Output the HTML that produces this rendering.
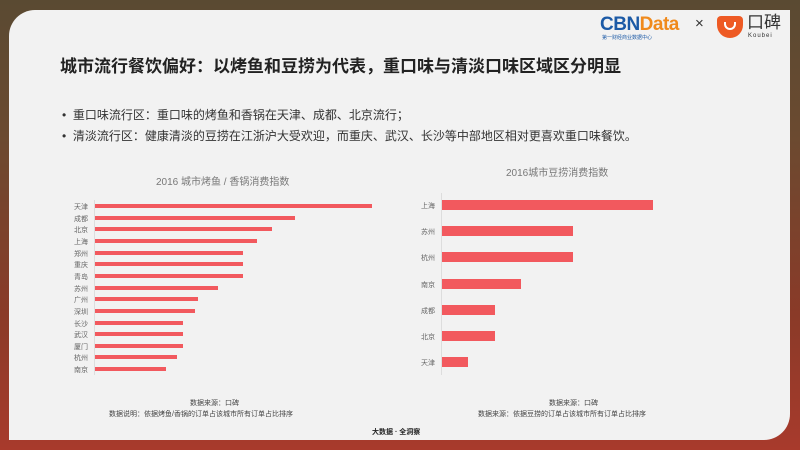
<!DOCTYPE html>
<html><head><meta charset="utf-8"><style>
*{margin:0;padding:0;box-sizing:border-box}
body{width:800px;height:450px;overflow:hidden;position:relative;font-family:"Liberation Sans","Noto Sans CJK SC",sans-serif;
background:linear-gradient(180deg,#5a4a32 0%,#6b4a30 30%,#8a3a28 70%,#a83a2c 100%);}
.panel{position:absolute;left:9px;top:10px;width:781px;height:430px;background:#f2f2f2;border-radius:26px 0 26px 0;}
.t{position:absolute;white-space:nowrap;line-height:1.2}
.lab{position:absolute;font-size:7px;color:#666;text-align:right;width:30px}
.bar{position:absolute;background:#f2595e}
</style></head><body>
<div class="panel"></div>
<div class="t" style="left:600px;top:14px;font-size:19px;font-weight:bold;letter-spacing:-0.5px"><span style="color:#1c5aa6">CBN</span><span style="color:#f08a1c">Data</span></div>
<div class="t" style="left:602px;top:35px;font-size:5px;color:#1c5aa6">第一财经商业数据中心</div>
<div class="t" style="left:695px;top:15px;font-size:15px;color:#333">×</div>
<div style="position:absolute;left:717px;top:16px;width:26px;height:22px;background:#ee5a24;border-radius:4px 4px 13px 13px"></div>
<div style="position:absolute;left:724px;top:22px;width:12px;height:8px;border:2px solid #fff;border-top:none;border-radius:0 0 7px 7px"></div>
<div class="t" style="left:747px;top:14px;font-size:17px;color:#333;line-height:1">口碑</div>
<div class="t" style="left:748px;top:33px;font-size:6px;color:#333;letter-spacing:1px;line-height:1">Koubei</div>
<div class="t" style="left:60px;top:57px;font-size:17px;font-weight:bold;color:#222">城市流行餐饮偏好：以烤鱼和豆捞为代表，重口味与清淡口味区域区分明显</div>
<div class="t" style="left:62px;top:108px;font-size:12px;color:#333">•&nbsp;&nbsp;重口味流行区：重口味的烤鱼和香锅在天津、成都、北京流行；</div>
<div class="t" style="left:62px;top:129px;font-size:12px;color:#333">•&nbsp;&nbsp;清淡流行区：健康清淡的豆捞在江浙沪大受欢迎，而重庆、武汉、长沙等中部地区相对更喜欢重口味餐饮。</div>
<div class="t" style="left:156px;top:177px;font-size:10px;color:#777">2016 城市烤鱼 / 香锅消费指数</div>
<div style="position:absolute;left:94px;top:200px;width:1px;height:175px;background:#ddd"></div>
<div id="L"></div>
<div class="t" style="left:506px;top:168px;font-size:10px;color:#777">2016城市豆捞消费指数</div>
<div style="position:absolute;left:441px;top:193px;width:1px;height:182px;background:#ddd"></div>
<div id="R"></div>
<div class="t" style="left:190px;top:400px;font-size:7px;color:#444">数据来源：口碑</div>
<div class="t" style="left:109px;top:411px;font-size:7px;color:#444">数据说明：依据烤鱼/香锅的订单占该城市所有订单占比排序</div>
<div class="t" style="left:549px;top:400px;font-size:7px;color:#444">数据来源：口碑</div>
<div class="t" style="left:478px;top:411px;font-size:7px;color:#444">数据来源：依据豆捞的订单占该城市所有订单占比排序</div>
<div class="t" style="left:372px;top:429px;font-size:7px;color:#222;font-weight:bold">大数据 · 全洞察</div>
<script>
var L=[["天津",372],["成都",295],["北京",272],["上海",257],["郑州",243],["重庆",243],["青岛",243],["苏州",218],["广州",198],["深圳",195],["长沙",183],["武汉",183],["厦门",183],["杭州",177],["南京",166]];
var h="";L.forEach(function(d,i){var y=206+i*11.65;
h+='<div class="lab" style="left:58px;top:'+(y-4)+'px">'+d[0]+'</div><div class="bar" style="left:95px;top:'+(y-2)+'px;width:'+(d[1]-95)+'px;height:4px"></div>';});
document.getElementById("L").innerHTML=h;
var R=[["上海",653],["苏州",573],["杭州",573],["南京",521],["成都",495],["北京",495],["天津",468]];
h="";R.forEach(function(d,i){var y=205+i*26.2;
h+='<div class="lab" style="left:405px;top:'+(y-4)+'px">'+d[0]+'</div><div class="bar" style="left:442px;top:'+(y-5)+'px;width:'+(d[1]-442)+'px;height:10px"></div>';});
document.getElementById("R").innerHTML=h;
</script>
</body></html>
